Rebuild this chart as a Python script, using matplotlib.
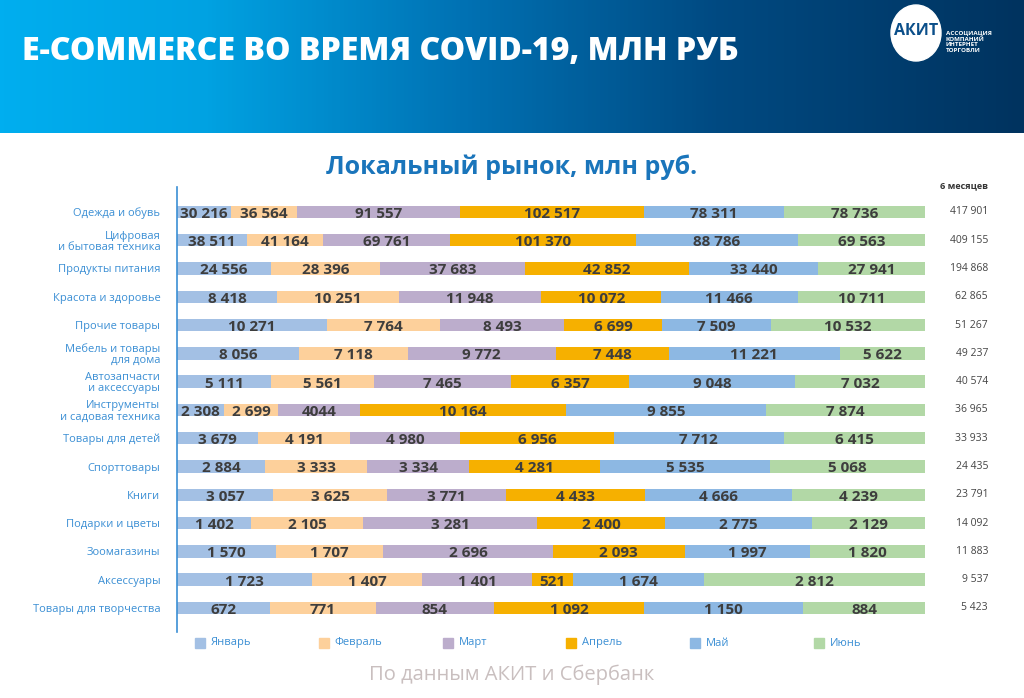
import numpy as np
import matplotlib
matplotlib.use("Agg")
import matplotlib.pyplot as plt
from matplotlib.colors import LinearSegmentedColormap
from matplotlib.patches import Rectangle, Ellipse
from matplotlib.transforms import blended_transform_factory

plt.rcParams['font.family'] = ['Open Sans', 'DejaVu Sans']

# chart data
categories = ["Одежда и обувь", "Цифровая\nи бытовая техника", "Продукты питания",
              "Красота и здоровье", "Прочие товары", "Мебель и товары\nдля дома",
              "Автозапчасти\nи аксессуары", "Инструменты\nи садовая техника",
              "Товары для детей", "Спорттовары", "Книги", "Подарки и цветы",
              "Зоомагазины", "Аксессуары", "Товары для творчества"]
months = ["Январь", "Февраль", "Март", "Апрель", "Май", "Июнь"]

jan = [30216, 38511, 24556, 8418, 10271, 8056, 5111, 2308, 3679, 2884, 3057, 1402, 1570, 1723, 672]
feb = [36564, 41164, 28396, 10251, 7764, 7118, 5561, 2699, 4191, 3333, 3625, 2105, 1707, 1407, 771]
mar = [91557, 69761, 37683, 11948, 8493, 9772, 7465, 4044, 4980, 3334, 3771, 3281, 2696, 1401, 854]
apr = [102517, 101370, 42852, 10072, 6699, 7448, 6357, 10164, 6956, 4281, 4433, 2400, 2093, 521, 1092]
may = [78311, 88786, 33440, 11466, 7509, 11221, 9048, 9855, 7712, 5535, 4666, 2775, 1997, 1674, 1150]
jun = [78736, 69563, 27941, 10711, 10532, 5622, 7032, 7874, 6415, 5068, 4239, 2129, 1820, 2812, 884]
totals = [417901, 409155, 194868, 62865, 51267, 49237, 40574, 36965, 33933, 24435, 23791,
          14092, 11883, 9537, 5423]

colors = ["#a3c0e4", "#fdd09b", "#bcadcc", "#f6b000", "#8db8e3", "#b2d8a6"]
label_blue = "#3b8fd4"
num_color = "#3d3d3d"


def fmt(v):
    # the source writes 4044 without a separator
    if v == 4044:
        return "4044"
    return f"{v:,}".replace(",", " ")


W, H = 1024, 698
fig = plt.figure(figsize=(W / 100, H / 100), dpi=100)

# header band with gradient
hax = fig.add_axes([0, 1 - 133 / H, 1, 133 / H])
cmap = LinearSegmentedColormap.from_list(
    "hdr", [(0, "#00aeef"), (0.2, "#00a2e2"), (0.45, "#0072b4"), (0.7, "#004a82"), (1, "#00335f")])
grad = np.linspace(0, 1, 512).reshape(1, -1)
hax.imshow(grad, aspect="auto", cmap=cmap, extent=[0, 1, 0, 1])
hax.set_xlim(0, 1)
hax.set_ylim(0, 1)
hax.axis("off")
fig.text(22 / W, 1 - 52 / H, "E-COMMERCE ВО ВРЕМЯ COVID-19, МЛН РУБ", color="white",
         fontsize=23, fontweight="heavy", va="center", ha="left")

# logo
hax.add_patch(Ellipse((916 / W, 1 - 33 / 133), 50 / W, 56 / 133, color="white", zorder=3))
hax.text(916 / W, 1 - 31 / 133, "АКИТ", color="#0b4f8a", fontsize=11.5, fontweight="bold",
         ha="center", va="center", zorder=4)
hax.text(946 / W, 1 - 42 / 133, "АССОЦИАЦИЯ\nКОМПАНИЙ\nИНТЕРНЕТ\nТОРГОВЛИ", color="white",
         fontsize=4.5, fontweight="bold", ha="left", va="center", linespacing=1.1, zorder=4)

fig.text(512 / W, 1 - 167 / H, "Локальный рынок, млн руб.", color="#1a75bb", fontsize=18,
         fontweight="bold", ha="center", va="center")
fig.text(988 / W, 1 - 186 / H, "6 месяцев", color="#333333", fontsize=6.5,
         fontweight="bold", ha="right", va="center")

# main stacked bars (shares of the six-month total)
ax = fig.add_axes([177 / W, 1 - 632 / H, 748 / W, (632 - 187) / H])
data = np.array([jan, feb, mar, apr, may, jun], dtype=float)
shares = data / data.sum(axis=0)
y = np.arange(len(categories))
left = np.zeros(len(categories))
for i, m in enumerate(months):
    ax.barh(y, shares[i], left=left, height=0.44, color=colors[i], label=m, zorder=2)
    for j in range(len(categories)):
        ax.text(left[j] + shares[i][j] / 2, y[j] + 0.07, fmt(int(data[i][j])),
                ha="center", va="center", fontsize=11, fontweight="bold", color=num_color, zorder=3)
    left += shares[i]

ax.set_xlim(0, 1)
ax.set_ylim(len(categories) - 1 + 0.85, -0.88)
ax.set_yticks(y)
ax.set_yticklabels(categories, fontsize=8, color=label_blue, linespacing=1.0)
ax.tick_params(axis="y", length=0, pad=12)
ax.set_xticks([])
for s in ["top", "right", "bottom"]:
    ax.spines[s].set_visible(False)
ax.spines["left"].set_color(label_blue)
ax.spines["left"].set_linewidth(1.2)

tot_tr = blended_transform_factory(fig.transFigure, ax.transData)
for j, t in enumerate(totals):
    ax.text(988 / W, y[j], fmt(t), transform=tot_tr,
            ha="right", va="center", fontsize=7.5, color="#444444")

# legend
leg_x = np.linspace(195, 814, len(months))
for i, m in enumerate(months):
    fig.patches.append(Rectangle((leg_x[i] / W, 1 - 648 / H), 10 / W, 10 / H,
                                 transform=fig.transFigure, color=colors[i]))
    fig.text((leg_x[i] + 16) / W, 1 - 643 / H, m, color=label_blue, fontsize=8,
             ha="left", va="center")

fig.text(512 / W, 1 - 675 / H, "По данным АКИТ и Сбербанк", color="#c9bfbf", fontsize=14.5,
         ha="center", va="center")

fig.savefig("out.png", dpi=100)
